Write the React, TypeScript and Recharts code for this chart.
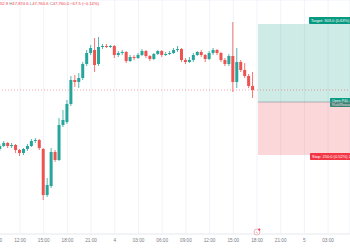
import React from "react";
import {
  ComposedChart,
  Bar,
  XAxis,
  YAxis,
  CartesianGrid,
  ReferenceArea,
  ReferenceLine,
} from "recharts";

// 30-minute candles (slot index = position in arrays)
const openPrices = [
  47465, 47480, 47495, 47480, 47485, 47460, 47445, 47465, 47480, 47505, 47510,
  47465, 47235, 47280, 47450, 47410, 47585, 47600, 47690, 47810, 47800, 47820,
  47890, 47945, 47960, 47890, 47975, 47980, 47975, 47980, 47935, 47945, 47950,
  47905, 47925, 47920, 47935, 47955, 47930, 47915, 47940, 47955, 47935, 47940,
  47945, 47960, 47965, 47910, 47900, 47910, 47935, 47950, 47935, 47915, 47945,
  47960, 47945, 47910, 47890, 47930, 47800, 47900, 47860, 47830, 47780,
];
const highPrices = [
  47490, 47505, 47500, 47495, 47490, 47465, 47470, 47490, 47515, 47520, 47515,
  47470, 47320, 47470, 47460, 47620, 47660, 47710, 47830, 47835, 47845, 47900,
  47960, 47985, 48020, 48025, 47990, 47990, 47985, 47985, 47955, 47960, 47955,
  47935, 47935, 47945, 47965, 47960, 47935, 47945, 47960, 47960, 47950, 47955,
  47970, 47980, 47970, 47920, 47925, 47945, 47955, 47960, 47940, 47955, 47970,
  47965, 47950, 47920, 47940, 48100, 47970, 47910, 47895, 47840, 47850,
];
const lowPrices = [
  47455, 47475, 47470, 47470, 47445, 47430, 47435, 47455, 47475, 47495, 47460,
  47210, 47225, 47270, 47400, 47405, 47575, 47590, 47680, 47775, 47770, 47810,
  47880, 47935, 47850, 47880, 47965, 47970, 47970, 47920, 47925, 47935, 47895,
  47900, 47910, 47915, 47930, 47920, 47905, 47910, 47935, 47925, 47930, 47935,
  47940, 47950, 47900, 47890, 47895, 47900, 47930, 47925, 47900, 47910, 47935,
  47935, 47900, 47880, 47880, 47750, 47770, 47850, 47820, 47770, 47720,
];
const closePrices = [
  47480, 47495, 47480, 47485, 47460, 47445, 47465, 47480, 47505, 47510, 47470,
  47235, 47285, 47450, 47410, 47585, 47610, 47690, 47810, 47800, 47820, 47890,
  47945, 47970, 47885, 47975, 47980, 47975, 47980, 47935, 47945, 47950, 47905,
  47925, 47920, 47935, 47955, 47930, 47915, 47940, 47955, 47935, 47940, 47945,
  47960, 47965, 47910, 47900, 47910, 47935, 47950, 47935, 47915, 47945, 47960,
  47945, 47910, 47890, 47930, 47800, 47900, 47860, 47830, 47780, 47760,
];

const tickSlots = [-1, 5, 11, 17, 23, 29, 35, 41, 47, 53, 59, 65, 71, 77, 83];
const tickLabels = [
  "09:00", "12:00", "15:00", "18:00", "21:00", "4", "03:00", "06:00",
  "09:00", "12:00", "15:00", "18:00", "21:00", "5", "03:00",
];
const gridPrices = [
  48167.5, 48064.5, 47961.5, 47858.5, 47755.5, 47652.5, 47549.5, 47446.5,
  47343.5, 47240.5, 47137.5,
];

const positionEntry = 47700;
const positionTarget = 48090;
const positionStop = 47435;
const positionStartSlot = 65.25;
const lastPrice = 47760;

const UP = "#26a69a";
const DOWN = "#ef5350";
const FONT = "Liberation Sans, Arial, sans-serif";

const data = openPrices.map((o, i) => ({
  t: i,
  open: o,
  high: highPrices[i],
  low: lowPrices[i],
  close: closePrices[i],
  range: [lowPrices[i], highPrices[i]],
}));

const X_MIN = -2.595;
const X_MAX = 88.544;

const Candle = (props: any) => {
  let { x, y, width, height, payload } = props;
  if (height < 0) {
    y = y + height;
    height = -height;
  }
  const { open, high, low, close } = payload;
  const up = close >= open;
  const color = up ? UP : DOWN;
  const span = high - low || 1;
  const toY = (v: number) => y + ((high - v) / span) * height;
  const cx = x + width / 2;
  const top = toY(Math.max(open, close));
  const bot = toY(Math.min(open, close));
  return (
    <g>
      <line x1={cx} x2={cx} y1={y} y2={y + height} stroke={color} strokeWidth={0.8} />
      <rect x={x} y={top} width={width} height={Math.max(bot - top, 0.8)} fill={color} />
    </g>
  );
};

const TargetLabel = (props: any) => {
  const vb = props.viewBox || {};
  const lx = vb.x + 51;
  const ly = vb.y - 7;
  return (
    <g>
      <rect x={lx} y={ly} width={70} height={7} fill="#089981" rx={0.8} />
      <text x={lx + 2} y={ly + 5} fontSize={4} fill="#ffffff" fontFamily={FONT}>
        Target: 303.0 (0.63%) 30.3, Amount: 3,030
      </text>
      <rect x={lx + 21} y={vb.y + vb.height - 4} width={40} height={9} fill="#089981" rx={0.8} />
      <text x={lx + 23} y={vb.y + vb.height - 0.2} fontSize={3.6} fill="#ffffff" fontFamily={FONT}>
        Open P&amp;L: −60, Qty: 1
      </text>
      <text x={lx + 23} y={vb.y + vb.height + 3.8} fontSize={3.6} fill="#ffffff" fontFamily={FONT}>
        Risk/Reward Ratio: 1.21
      </text>
    </g>
  );
};

const StopLabel = (props: any) => {
  const vb = props.viewBox || {};
  const lx = vb.x + 52;
  const ly = vb.y + vb.height - 2;
  return (
    <g>
      <rect x={lx} y={ly} width={70} height={7} fill="#f23645" rx={0.8} />
      <text x={lx + 2} y={ly + 5} fontSize={4} fill="#ffffff" fontFamily={FONT}>
        Stop: 250.0 (0.52%) 25, Amount: 2,500
      </text>
    </g>
  );
};

export default function App() {
  return (
    <div style={{ position: "absolute", left: 0, top: 0, width: 350, height: 250, overflow: "hidden", background: "#ffffff" }}>
      <div style={{ position: "absolute", left: -10, top: 0 }}>
        <ComposedChart
          width={360}
          height={250}
          data={data}
          margin={{ top: 0, right: 0, bottom: 0, left: 0 }}
        >
          <CartesianGrid stroke="#f0f3fa" strokeWidth={1} />
          <XAxis
            dataKey="t"
            type="number"
            domain={[X_MIN, X_MAX]}
            allowDataOverflow
            ticks={tickSlots}
            interval={0}
            tickFormatter={(v: number) => tickLabels[tickSlots.indexOf(v)] ?? ""}
            height={16}
            tickLine={false}
            tickSize={0}
            tickMargin={5}
            axisLine={{ stroke: "#eceef2" }}
            tick={{ fontSize: 4.7, fill: "#787b86", fontFamily: FONT }}
          />
          <YAxis
            type="number"
            domain={[47040, 48210]}
            allowDataOverflow
            ticks={gridPrices}
            width={0}
            tick={false}
            axisLine={false}
            tickLine={false}
          />
          <ReferenceArea
            x1={positionStartSlot}
            x2={X_MAX}
            y1={positionEntry}
            y2={positionTarget}
            fill="#089981"
            fillOpacity={0.2}
            stroke="none"
            label={<TargetLabel />}
          />
          <ReferenceArea
            x1={positionStartSlot}
            x2={X_MAX}
            y1={positionStop}
            y2={positionEntry}
            fill="#f23645"
            fillOpacity={0.2}
            stroke="none"
            label={<StopLabel />}
          />
          <ReferenceLine
            segment={[
              { x: positionStartSlot, y: positionEntry },
              { x: X_MAX, y: positionEntry },
            ]}
            stroke="#9598a1"
            strokeOpacity={0.7}
            strokeWidth={1}
          />
          <ReferenceLine
            y={lastPrice}
            stroke="#f23645"
            strokeOpacity={0.45}
            strokeDasharray="1 2"
            strokeWidth={1}
          />
          <Bar
            dataKey="range"
            barSize={3}
            shape={<Candle />}
            isAnimationActive={false}
          />
        </ComposedChart>
      </div>
      <svg width={350} height={250} style={{ position: "absolute", left: 0, top: 0, pointerEvents: "none" }}>
        <text x={-11.4} y={4.6} fontSize={4.2} fontFamily={FONT}>
          <tspan fill="#787b86">O</tspan>
          <tspan fill="#f23645">47,852.9 </tspan>
          <tspan fill="#787b86">H</tspan>
          <tspan fill="#f23645">47,874.6 </tspan>
          <tspan fill="#787b86">L</tspan>
          <tspan fill="#f23645">47,760.6 </tspan>
          <tspan fill="#787b86">C</tspan>
          <tspan fill="#f23645">47,760.0 −67.5 (−0.14%)</tspan>
        </text>
        <circle cx={257} cy={232} r={3} fill="#ffffff" stroke="#e4a2a8" strokeWidth={0.8} />
        <text x={257} y={233.5} fontSize={3.5} textAnchor="middle" fill="#e4a2a8" fontFamily={FONT}>
          ϟ
        </text>
        <circle cx={259.3} cy={229.6} r={1.1} fill="#f23645" />
      </svg>
    </div>
  );
}
